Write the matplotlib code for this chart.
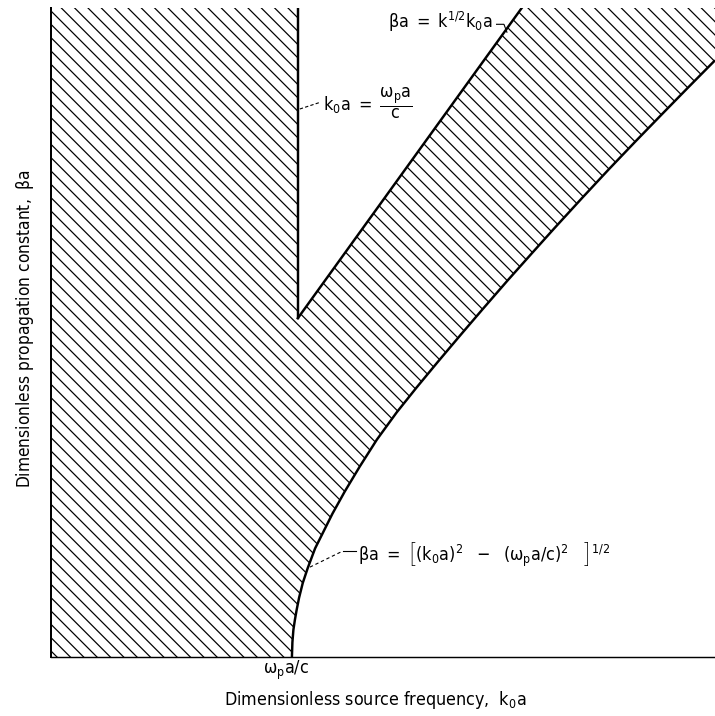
import matplotlib
matplotlib.use("Agg")
import matplotlib.pyplot as plt

plt.rcParams['font.family'] = ['DejaVu Sans']
plt.rcParams['font.stretch'] = 'condensed'
plt.rcParams['mathtext.fontset'] = 'custom'
plt.rcParams['mathtext.rm'] = 'DejaVu Sans:stretch=condensed'
plt.rcParams['mathtext.it'] = 'DejaVu Sans:italic:stretch=condensed'
plt.rcParams['mathtext.default'] = 'regular'
plt.rcParams['hatch.linewidth'] = 1.1

# ---- data (k0a, beta*a) ----
# cutoff curve  beta a = [(k0 a)^2 - (wp a/c)^2]^(1/2)
curve_k0a = [0.976, 0.978, 0.982, 0.988, 0.995, 1.005, 1.02, 1.04, 1.07, 1.10,
             1.14, 1.19, 1.25, 1.32, 1.40, 1.48, 1.567, 1.66, 1.75, 1.85,
             1.95, 2.04, 2.15, 2.26, 2.37, 2.48, 2.58, 2.69]
curve_beta = [0.00, 0.06, 0.11, 0.15, 0.19, 0.24, 0.30, 0.36, 0.44, 0.50,
              0.58, 0.67, 0.77, 0.88, 0.99, 1.09, 1.195, 1.305, 1.41, 1.525,
              1.637, 1.737, 1.857, 1.975, 2.09, 2.203, 2.305, 2.416]
# vertical line k0 a = wp a / c
vert_k0a = [1.0, 1.0]
vert_beta = [1.372, 2.628]
# line beta a = k^(1/2) k0 a
slope_k0a = [1.0, 1.907]
slope_beta = [1.372, 2.628]

x_max = 2.69
y_max = 2.628
tick_pos = [0.952]
tick_labels = [r'$\omega_p a/c$']

W, H, DPI = 715, 716, 80
fig = plt.figure(figsize=(W / DPI, H / DPI), dpi=DPI)
ax = fig.add_axes([51 / W, (H - 657) / H, 664 / W, 649 / H])
ax.set_xlim(0, x_max)
ax.set_ylim(0, y_max)

# hatched region
poly_x = [0, 0, vert_k0a[1], vert_k0a[0], slope_k0a[1], x_max] + curve_k0a[::-1]
poly_y = [0, y_max, vert_beta[1], vert_beta[0], slope_beta[1], y_max] + curve_beta[::-1]
ax.fill(poly_x, poly_y, facecolor='none', edgecolor='black', hatch='\\\\', linewidth=0)

lw = 2.2
ax.plot(curve_k0a, curve_beta, color='black', lw=lw, solid_capstyle='butt')
ax.plot(vert_k0a, vert_beta, color='black', lw=lw)
ax.plot(slope_k0a, slope_beta, color='black', lw=lw)

for s in ['top', 'right']:
    ax.spines[s].set_visible(False)
ax.spines['left'].set_linewidth(1.8)
ax.spines['bottom'].set_linewidth(1.3)
ax.set_yticks([])
fs = 16
ax.set_xticks(tick_pos, tick_labels, fontsize=fs)
ax.tick_params(axis='x', length=0, pad=2)

ax.set_xlabel(r'Dimensionless source frequency,  $k_0a$', fontsize=fs, va='center')
ax.xaxis.set_label_coords(0.488, -0.066)
ax.set_ylabel(r'Dimensionless propagation constant,  $\beta a$', fontsize=15.5, va='center', ha='center')
ax.yaxis.set_label_coords(-0.039, 0.506)

# annotations
ax.text(1.101, 2.24, r'$k_0a\ =\ \dfrac{\omega_p a}{c}$', fontsize=fs, va='center', ha='left')
ax.plot([1.008, 1.093], [2.219, 2.247], color='black', lw=1.0, ls=(0, (3, 2)))

ax.text(1.364, 2.547, r'$\beta a\ =\ k^{1/2}k_0a$', fontsize=fs, va='baseline', ha='left')
ax.plot([1.805, 1.835, 1.847], [2.562, 2.562, 2.530], color='black', lw=1.0)

ax.text(1.243, 0.389, r'$\beta a\ =\ \left[(k_0a)^2\ \ -\ \ (\omega_p a/c)^2\ \ \ \right]^{1/2}$',
        fontsize=fs, va='baseline', ha='left')
ax.plot([1.049, 1.182], [0.364, 0.429], color='black', lw=1.0, ls=(0, (3, 2.5)))
ax.plot([1.182, 1.235], [0.429, 0.429], color='black', lw=1.0)

fig.savefig('out.png', dpi=DPI)
